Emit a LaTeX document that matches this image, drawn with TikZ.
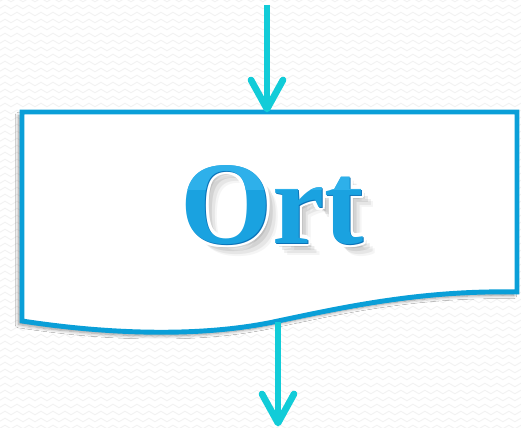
\documentclass[tikz,border=0pt]{standalone}
\usepackage{fontspec}
\setmainfont{Liberation Serif}
\usetikzlibrary{decorations.pathmorphing,shadows.blur}
\definecolor{flowcyan}{HTML}{12CCD8}
\definecolor{boxblue}{HTML}{0A9FD8}
\definecolor{textblue}{HTML}{1AA2E0}
\definecolor{textlight}{HTML}{2EB0EA}
\definecolor{textdark}{HTML}{0A72B8}
\tikzset{
  flowline/.style={draw=flowcyan, line width=3.8pt},
  flowwing/.style={draw=flowcyan, line width=3.8pt, line cap=round, line join=round},
  docshape/.style={draw=boxblue, line width=2.8pt, fill=white, line join=miter,
    blur shadow={shadow xshift=-2pt, shadow yshift=-2pt, shadow blur steps=8, shadow opacity=40}},
  bigword/.style={font=\fontsize{67}{72}\bfseries\selectfont, inner sep=0pt},
  texture/.style={draw=black!5, line width=0.5pt,
    decorate, decoration={zigzag, segment length=0.24cm, amplitude=0.035cm}}
}
\begin{document}
\begin{tikzpicture}[x=0.02cm, y=-0.02cm]
  % paper with faint zigzag texture
  \fill[white] (0,0) rectangle (521,428);
  \useasboundingbox (0,0) rectangle (521,428);
  \begin{scope}
    \clip (0,0) rectangle (521,428);
    \foreach \r in {0,7,...,430}
      \draw[texture] (-10,\r) -- (531,\r);
  \end{scope}

  % document symbol with wavy lower edge
  \path[docshape] (22,112) -- (517,112) -- (517,292)
     .. controls (420,290) and (340,308) .. (278,321)
     .. controls (210,336) and (120,336) .. (22,321) -- cycle;

  % label anchor
  \node[bigword, text=white] (box) at (272,205) {\phantom{Ort}};

  % soft shadow of the label
  \foreach \d/\o in {7/0.04,5.5/0.06,4/0.08,2.5/0.09}
    \node[bigword, text=black, opacity=\o] at ([xshift=\d pt, yshift=-\d pt]box.center) {Ort};
  % white rim of the label
  \foreach \a in {0,30,...,359}
    \node[bigword, text=white] at ([shift={(\a:2pt)}]box.center) {Ort};
  % bevelled blue letters, lighter towards the top
  \node[bigword, text=textdark] at ([xshift=0.7pt, yshift=-0.7pt]box.center) {Ort};
  \node[bigword, text=textblue] at (box.center) {Ort};
  \begin{scope}
    \clip (150,150) rectangle (400,190);
    \node[bigword, text=textlight] at (box.center) {Ort};
  \end{scope}

  % connector end points
  \coordinate (src) at (267,5);
  \coordinate (entry) at (267,109);
  \coordinate (exit) at (278,322);
  \coordinate (dst) at (278,423);

  % flow connectors with open arrowheads
  \draw[flowline] (src) -- (entry);
  \draw[flowwing] ([shift={(-16,-29)}]entry) -- (entry) -- ([shift={(16,-29)}]entry);
  \draw[flowline] (exit) -- (dst);
  \draw[flowwing] ([shift={(-16,-29)}]dst) -- (dst) -- ([shift={(16,-29)}]dst);
\end{tikzpicture}
\end{document}
